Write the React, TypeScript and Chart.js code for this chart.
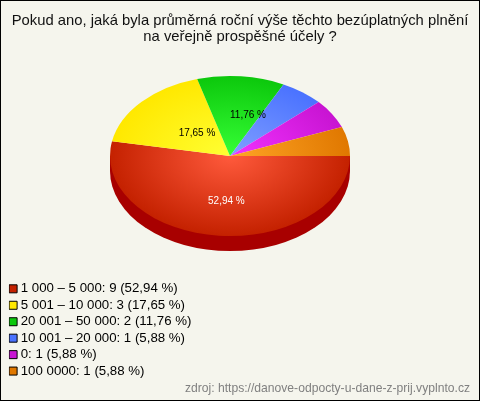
import React, { useEffect, useRef } from "react";
import { Chart, registerables } from "chart.js";

Chart.register(...registerables);

const titleLines = [
  "Pokud ano, jaká byla průměrná roční výše těchto bezúplatných plnění",
  "na veřejně prospěšné účely ?",
];
const sourceText = "zdroj: https://danove-odpocty-u-dane-z-prij.vyplnto.cz";
const categories = ["1 000 – 5 000", "5 001 – 10 000", "20 001 – 50 000", "10 001 – 20 000", "0", "100 0000"];
const counts = [9, 3, 2, 1, 1, 1];
const percents = ["52,94", "17,65", "11,76", "5,88", "5,88", "5,88"];
const baseColors = ["#c42100", "#ffe800", "#0cc80c", "#4a72ff", "#c814d2", "#e07800"];
const glowColors = ["#ff5a3c", "#ffff33", "#36ff36", "#809fff", "#f232ff", "#ffa526"];
const sliceLabels = ["52,94 %", "17,65 %", "11,76 %", "", "", ""];
const sliceLabelColors = ["#ffffff", "#000000", "#000000", "", "", ""];

const FONT = "'Liberation Sans', Arial, sans-serif";
const SQUASH = 80 / 120;
const DEPTH = 15;
const labelAnchors = [
  [-0.03, 0.56],
  [-0.275, -0.29],
  [0.15, -0.51],
];

const piePlugin = {
  id: "tiltedPie",
  afterLayout(chart: any) {
    chart.chartArea = { left: 110, right: 350, top: 36, bottom: 276, width: 240, height: 240 };
    if (chart.legend) {
      chart.legend.left = 8.9;
      chart.legend.top = 279;
    }
    const src = chart.boxes.find((b: any) => b.position === "bottom" && b.options?.text === sourceText);
    if (src) {
      src.right = 470;
    }
  },
  beforeDatasetsDraw(chart: any) {
    const ctx = chart.ctx;
    const arc = chart.getDatasetMeta(0).data[0];
    const { x, y, outerRadius: r } = arc;
    const ry = r * SQUASH;
    ctx.save();
    ctx.fillStyle = "#a80000";
    ctx.beginPath();
    ctx.moveTo(x + r, y);
    ctx.lineTo(x + r, y + DEPTH);
    ctx.ellipse(x, y + DEPTH, r, ry, 0, 0, Math.PI);
    ctx.lineTo(x - r, y);
    ctx.closePath();
    ctx.fill();
    ctx.restore();
    ctx.save();
    ctx.translate(x, y);
    ctx.scale(1, SQUASH);
    ctx.translate(-x, -y);
  },
  afterDatasetsDraw(chart: any) {
    const ctx = chart.ctx;
    ctx.restore();
    const arc = chart.getDatasetMeta(0).data[0];
    const { x, y, outerRadius: r } = arc;
    ctx.save();
    ctx.font = `10px ${FONT}`;
    ctx.textAlign = "center";
    ctx.textBaseline = "middle";
    labelAnchors.forEach((a, i) => {
      ctx.fillStyle = sliceLabelColors[i];
      ctx.fillText(sliceLabels[i], x + a[0] * r, y + a[1] * r * SQUASH);
    });
    ctx.restore();
  },
};

export default function App() {
  const ref = useRef<HTMLCanvasElement>(null);
  useEffect(() => {
    const chart = new Chart(ref.current as HTMLCanvasElement, {
      type: "pie",
      data: {
        labels: categories,
        datasets: [
          {
            data: counts,
            borderWidth: 0,
            backgroundColor: (c: any) => {
              const i = c.dataIndex;
              const area = c.chart.chartArea;
              if (!area || i === undefined) return baseColors[i ?? 0];
              const cx = (area.left + area.right) / 2;
              const cy = (area.top + area.bottom) / 2;
              const g = c.chart.ctx.createRadialGradient(cx, cy, 0, cx, cy, (area.right - area.left) / 2);
              g.addColorStop(0, glowColors[i]);
              g.addColorStop(1, baseColors[i]);
              return g;
            },
          },
        ],
      },
      options: {
        responsive: false,
        animation: false,
        events: [],
        rotation: 90,
        plugins: {
          tooltip: { enabled: false },
          title: {
            display: true,
            text: titleLines,
            color: "#111111",
            font: { family: FONT, size: 14.8, weight: "normal", lineHeight: 1.088 },
            padding: { top: 13, bottom: 0 },
          },
          subtitle: {
            display: true,
            position: "bottom",
            align: "end",
            text: sourceText,
            color: "#808080",
            font: { family: FONT, size: 12.13, weight: "normal" },
            padding: { top: 0, bottom: 5 },
          },
          legend: {
            display: true,
            position: "left",
            align: "start",
            labels: {
              usePointStyle: true,
              boxWidth: 2,
              boxHeight: 8,
              padding: 3.2,
              color: "#222222",
              font: { family: FONT, size: 13.25 },
              generateLabels: () =>
                categories.map((c, i) => ({
                  text: `${c}: ${counts[i]} (${percents[i]} %)`,
                  fillStyle: baseColors[i],
                  strokeStyle: "#000000",
                  lineWidth: 1,
                  pointStyle: "rect",
                  rotation: 0,
                  hidden: false,
                  index: i,
                })),
            },
          },
        },
      } as any,
      plugins: [piePlugin],
    } as any);
    return () => chart.destroy();
  }, []);
  return (
    <canvas
      ref={ref}
      width={480}
      height={401}
      style={{
        position: "absolute",
        left: 0,
        top: 0,
        display: "block",
        background: "#f5f5ed",
        boxShadow: "inset 0 0 0 1px #000",
      }}
    />
  );
}
